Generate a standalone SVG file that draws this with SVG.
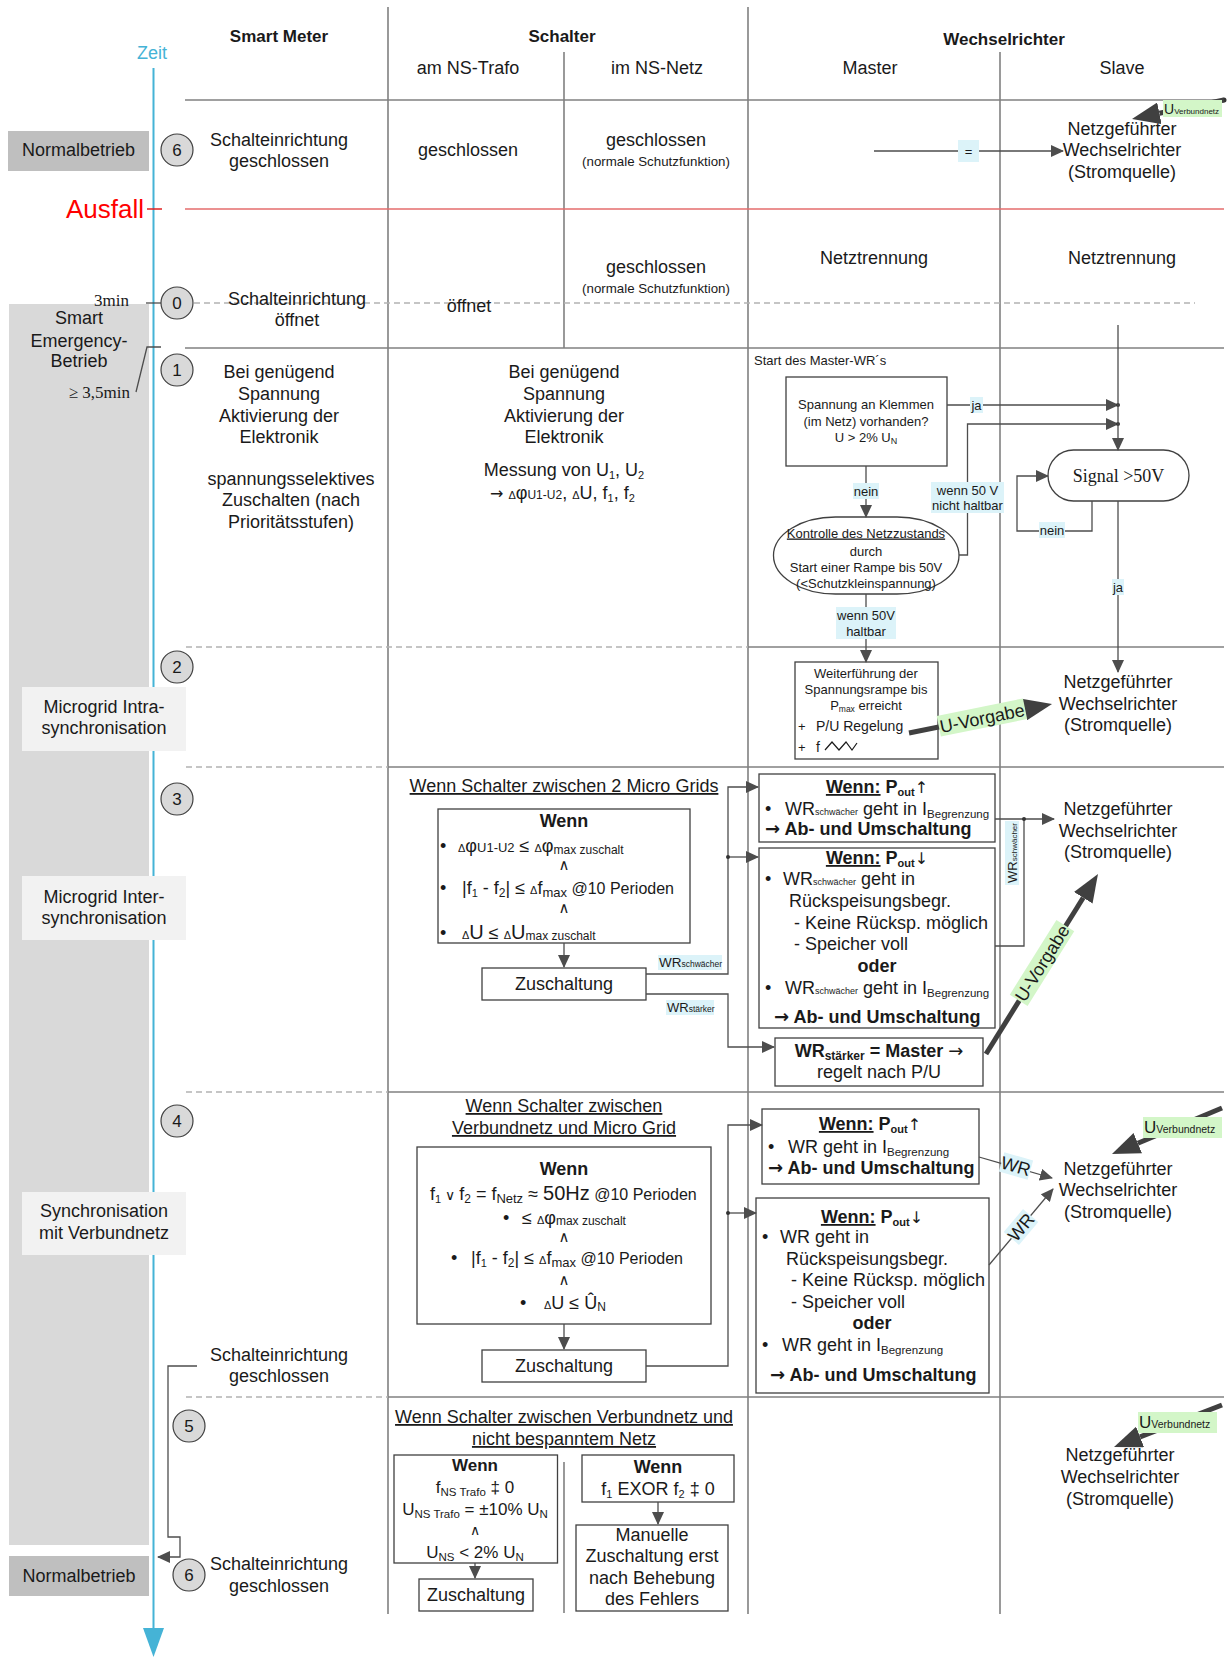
<svg xmlns="http://www.w3.org/2000/svg" width="1231" height="1657" viewBox="0 0 1231 1657">
<defs>
<style>
text{font-family:"Liberation Sans",Arial,"DejaVu Sans",sans-serif;fill:#1a1a1a;font-size:18px}
.c{text-anchor:middle}
.e{text-anchor:end}
.b{font-weight:bold}
.s{font-size:13px}
.serif{font-family:"Liberation Serif","Times New Roman",serif}
.u{text-decoration:underline}
.ar{font-family:"DejaVu Sans",sans-serif}
.grid{stroke:#808080;stroke-width:1.6;fill:none}
.dash{stroke:#b3b3b3;stroke-width:1.3;stroke-dasharray:6 4;fill:none}
.box{fill:#fff;stroke:#404040;stroke-width:1.3}
.con{fill:none;stroke:#4d4d4d;stroke-width:1.3}
.arr{marker-end:url(#ah)}
.thick{fill:none;stroke:#404040;stroke-width:5;marker-end:url(#ahb)}
.lc{fill:#dcf3f9}
.lg{fill:#d3f6c8}
.num{fill:#d9d9d9;stroke:#404040;stroke-width:1.2}
.dot{fill:#333}
</style>
<marker id="ah" markerUnits="userSpaceOnUse" markerWidth="13" markerHeight="12" refX="12" refY="6" orient="auto"><path d="M0,0 L13,6 L0,12 z" fill="#4d4d4d"/></marker>
<marker id="ahb" markerUnits="userSpaceOnUse" markerWidth="28" markerHeight="22" refX="0" refY="11" orient="auto"><path d="M0,0 L28,11 L0,22 z" fill="#404040"/></marker>
</defs>
<rect width="1231" height="1657" fill="#fff"/>

<!-- left phase band and time axis -->
<g id="phases">
<rect x="9" y="304" width="140" height="1241" fill="#d9d9d9"/>
<line x1="153.5" y1="68" x2="153.5" y2="1630" stroke="#45b3d6" stroke-width="2"/>
<polygon points="143,1628 164,1628 153.5,1657" fill="#45b3d6"/>
<text class="c" x="152" y="59" style="fill:#45b3d6">Zeit</text>
<g id="normal-top"><rect x="8" y="131" width="141" height="40" fill="#bfbfbf"/><text class="c" x="78.5" y="156">Normalbetrieb</text></g>
<g id="normal-bottom"><rect x="9" y="1556" width="140" height="40" fill="#bfbfbf"/><text class="c" x="79" y="1582">Normalbetrieb</text></g>
<g id="ausfall"><text class="e" x="144" y="218" style="fill:#ff0000;font-size:26px">Ausfall</text><line x1="147" y1="209" x2="162" y2="209" stroke="#e02020" stroke-width="1.5"/></g>
<g id="emergency"><text class="c" x="79" y="324">Smart</text><text class="c" x="79" y="347">Emergency-</text><text class="c" x="79" y="367">Betrieb</text></g>
<text class="serif e" x="129" y="306" style="font-size:17px">3min</text>
<line x1="146" y1="303" x2="161" y2="303" stroke="#404040" stroke-width="1.2"/>
<text class="serif e" x="130" y="398" style="font-size:17px">≥ 3,5min</text>
<polyline class="con" points="136,392 147,347 161,347"/>
<g id="intra"><rect x="22" y="687" width="164" height="64" fill="#f2f2f2"/><text class="c" x="104" y="713">Microgrid Intra-</text><text class="c" x="104" y="734">synchronisation</text></g>
<g id="inter"><rect x="22" y="876" width="164" height="64" fill="#f2f2f2"/><text class="c" x="104" y="903">Microgrid Inter-</text><text class="c" x="104" y="924">synchronisation</text></g>
<g id="sync"><rect x="22" y="1192" width="164" height="63" fill="#f2f2f2"/><text class="c" x="104" y="1217">Synchronisation</text><text class="c" x="104" y="1239">mit Verbundnetz</text></g>
</g>

<!-- table grid -->
<g id="grid">
<line class="grid" x1="388" y1="7" x2="388" y2="1614"/>
<line class="grid" x1="564" y1="52" x2="564" y2="348"/>
<line class="grid" x1="748" y1="7" x2="748" y2="1614"/>
<line class="grid" x1="1000" y1="52" x2="1000" y2="1614"/>
<line class="grid" x1="564" y1="1462" x2="564" y2="1613"/>
<line class="grid" x1="185" y1="100" x2="1224" y2="100"/>
<line x1="185" y1="209" x2="1224" y2="209" stroke="#e46c6c" stroke-width="1.5"/>
<line class="dash" x1="194" y1="303" x2="1195" y2="303"/>
<line class="grid" x1="185" y1="348" x2="1224" y2="348"/>
<line class="dash" x1="186" y1="647" x2="748" y2="647"/>
<line class="grid" x1="748" y1="647" x2="1224" y2="647"/>
<line class="dash" x1="186" y1="767" x2="388" y2="767"/>
<line class="grid" x1="388" y1="767" x2="1224" y2="767"/>
<line class="dash" x1="186" y1="1092" x2="388" y2="1092"/>
<line class="grid" x1="388" y1="1092" x2="1224" y2="1092"/>
<line class="dash" x1="186" y1="1397" x2="388" y2="1397"/>
<line class="grid" x1="388" y1="1397" x2="1224" y2="1397"/>
</g>

<!-- column headers -->
<g id="headers">
<text class="c b" x="279" y="42" style="font-size:17px">Smart Meter</text>
<text class="c b" x="562" y="42" style="font-size:17px">Schalter</text>
<text class="c b" x="1004" y="45" style="font-size:17px">Wechselrichter</text>
<text class="c" x="468" y="74">am NS-Trafo</text>
<text class="c" x="657" y="74">im NS-Netz</text>
<text class="c" x="870" y="74">Master</text>
<text class="c" x="1122" y="74">Slave</text>
</g>

<!-- step markers -->
<g id="steps">
<g id="step6a"><circle class="num" cx="177" cy="150" r="16"/><text class="c" x="177" y="156" style="font-size:17px">6</text></g>
<g id="step0"><circle class="num" cx="177" cy="303" r="16"/><text class="c" x="177" y="309" style="font-size:17px">0</text></g>
<g id="step1"><circle class="num" cx="177" cy="370" r="16"/><text class="c" x="177" y="376" style="font-size:17px">1</text></g>
<g id="step2"><circle class="num" cx="177" cy="667" r="16"/><text class="c" x="177" y="673" style="font-size:17px">2</text></g>
<g id="step3"><circle class="num" cx="177" cy="799" r="16"/><text class="c" x="177" y="805" style="font-size:17px">3</text></g>
<g id="step4"><circle class="num" cx="177" cy="1121" r="16"/><text class="c" x="177" y="1127" style="font-size:17px">4</text></g>
<g id="step5"><circle class="num" cx="189" cy="1426" r="16"/><text class="c" x="189" y="1432" style="font-size:17px">5</text></g>
<g id="step6b"><circle class="num" cx="189" cy="1575" r="16"/><text class="c" x="189" y="1581" style="font-size:17px">6</text></g>
</g>

<!-- row texts: normal operation, outage, start -->
<g id="row-texts">
<text class="c" x="279" y="146">Schalteinrichtung</text><text class="c" x="279" y="167">geschlossen</text>
<text class="c" x="468" y="156">geschlossen</text>
<text class="c" x="656" y="146">geschlossen</text><text class="c" x="656" y="166" style="font-size:13.3px">(normale Schutzfunktion)</text>
<text class="c" x="1122" y="135">Netzgeführter</text><text class="c" x="1122" y="156">Wechselrichter</text><text class="c" x="1122" y="178">(Stromquelle)</text>

<text class="c" x="656" y="273">geschlossen</text><text class="c" x="656" y="293" style="font-size:13.3px">(normale Schutzfunktion)</text>
<text class="c" x="874" y="264">Netztrennung</text>
<text class="c" x="1122" y="264">Netztrennung</text>
<text class="c" x="297" y="305">Schalteinrichtung</text><text class="c" x="297" y="326">öffnet</text>
<text class="c" x="469" y="312">öffnet</text>

<text class="c" x="279" y="378">Bei genügend</text><text class="c" x="279" y="400">Spannung</text><text class="c" x="279" y="422">Aktivierung der</text><text class="c" x="279" y="443">Elektronik</text>
<text class="c" x="291" y="485">spannungsselektives</text><text class="c" x="291" y="506">Zuschalten (nach</text><text class="c" x="291" y="528">Prioritätsstufen)</text>
<text class="c" x="564" y="378">Bei genügend</text><text class="c" x="564" y="400">Spannung</text><text class="c" x="564" y="422">Aktivierung der</text><text class="c" x="564" y="443">Elektronik</text>
<text class="c" x="564" y="476">Messung von U<tspan font-size="11" dy="3">1</tspan><tspan dy="-3">, U</tspan><tspan font-size="11" dy="3">2</tspan></text>
<text x="490" y="499"><tspan class="ar" font-size="16">→</tspan> <tspan font-size="11">Δ</tspan>φ<tspan font-size="12">U1-U2</tspan>, <tspan font-size="11">Δ</tspan>U, f<tspan font-size="11" dy="3">1</tspan><tspan dy="-3">, f</tspan><tspan font-size="11" dy="3">2</tspan></text>

<text x="754" y="365" class="s">Start des Master-WR´s</text>
<text class="c" x="1118" y="688">Netzgeführter</text><text class="c" x="1118" y="710">Wechselrichter</text><text class="c" x="1118" y="731">(Stromquelle)</text>

<text class="c" x="1118" y="815">Netzgeführter</text><text class="c" x="1118" y="837">Wechselrichter</text><text class="c" x="1118" y="858">(Stromquelle)</text>

<text class="c" x="1118" y="1175">Netzgeführter</text><text class="c" x="1118" y="1196">Wechselrichter</text><text class="c" x="1118" y="1218">(Stromquelle)</text>
<text class="c" x="279" y="1361">Schalteinrichtung</text><text class="c" x="279" y="1382">geschlossen</text>

<text class="c" x="1120" y="1461">Netzgeführter</text><text class="c" x="1120" y="1483">Wechselrichter</text><text class="c" x="1120" y="1505">(Stromquelle)</text>
<text class="c" x="279" y="1570">Schalteinrichtung</text><text class="c" x="279" y="1592">geschlossen</text>

<text class="c u" x="564" y="792">Wenn Schalter zwischen 2 Micro Grids</text>
<text class="c u" x="564" y="1112">Wenn Schalter zwischen</text><text class="c u" x="564" y="1134">Verbundnetz und Micro Grid</text>
<text class="c u" x="564" y="1423">Wenn Schalter zwischen Verbundnetz und</text><text class="c u" x="564" y="1445">nicht bespanntem Netz</text>
</g>

<!-- master start-up flow -->
<g id="n-klemmen"><rect class="box" x="786" y="377" width="161" height="89"/>
<text class="c s" x="866" y="408.5">Spannung an Klemmen</text><text class="c s" x="866" y="425.5">(im Netz) vorhanden?</text><text class="c s" x="866" y="441.5">U &gt; 2% U<tspan font-size="9" dy="2">N</tspan></text></g>
<g id="n-kontrolle"><rect class="box" x="773.5" y="517" width="185.5" height="77" rx="62" ry="38.5"/>
<text class="c s u" x="866" y="537.5">Kontrolle des Netzzustands</text><text class="c s" x="866" y="555.5">durch</text><text class="c s" x="866" y="571.5">Start einer Rampe bis 50V</text><text class="c s" x="866" y="587.5">(&lt;Schutzkleinspannung)</text></g>
<g id="n-signal"><rect class="box" x="1048" y="450" width="141" height="51" rx="25.5"/>
<text class="c serif" x="1118.5" y="482">Signal &gt;50V</text></g>
<g id="n-rampe"><rect class="box" x="795" y="662" width="143" height="97"/>
<text class="c s" x="866" y="677.5">Weiterführung der</text><text class="c s" x="866" y="693.5">Spannungsrampe bis</text>
<text class="c s" x="866" y="709.5">P<tspan font-size="8.5" dy="2">max</tspan><tspan dy="-2"> erreicht</tspan></text>
<text class="s" x="798" y="731">+</text><text x="816" y="731" style="font-size:14px">P/U Regelung</text>
<text class="s" x="798" y="752">+</text><text x="816" y="752" style="font-size:14px">f</text>
<polyline points="825,750 832,742 839,750 846,742 852,750 857,743" fill="none" stroke="#1a1a1a" stroke-width="1.2"/></g>

<!-- micro grid inter-synchronisation -->
<g id="n-wenn3"><rect class="box" x="438" y="809" width="252" height="134"/>
<text class="c b" x="564" y="827">Wenn</text>
<text x="440" y="852">•</text>
<text x="458" y="852"><tspan font-size="11">Δ</tspan>φ<tspan font-size="13">U1-U2</tspan> ≤ <tspan font-size="11">Δ</tspan>φ<tspan font-size="12" dy="2">max zuschalt</tspan></text>
<text class="c" x="564" y="870" style="font-size:15px">∧</text>
<text x="440" y="894">•</text>
<text x="462" y="894">|f<tspan font-size="11" dy="3">1</tspan><tspan dy="-3"> - f</tspan><tspan font-size="12" dy="3">2</tspan><tspan dy="-3">| ≤ </tspan><tspan font-size="11">Δ</tspan>f<tspan font-size="13" dy="3">max</tspan><tspan dy="-3" font-size="16">  @10 Perioden</tspan></text>
<text class="c" x="564" y="913" style="font-size:15px">∧</text>
<text x="440" y="939">•</text>
<text x="462" y="939"><tspan font-size="11">Δ</tspan><tspan font-size="20">U</tspan> ≤ <tspan font-size="11">Δ</tspan><tspan font-size="20">U</tspan><tspan font-size="12" dy="1">max zuschalt</tspan></text></g>
<g id="n-zu3"><rect class="box" x="482" y="968" width="164" height="32"/><text class="c" x="564" y="990">Zuschaltung</text></g>
<g id="n-pup3"><rect class="box" x="759" y="774" width="236" height="68"/>
<text class="c b" x="877" y="793"><tspan class="u">Wenn:</tspan> P<tspan font-size="11" dy="3">out</tspan><tspan dy="-3" class="ar" font-weight="normal" font-size="16">↑</tspan></text>
<text x="765" y="815">•</text>
<text x="785" y="815">WR<tspan font-size="9">schwächer</tspan> geht in I<tspan font-size="11.5" dy="3">Begrenzung</tspan></text>
<text class="b" x="765" y="835"><tspan class="ar">→</tspan> Ab- und Umschaltung</text></g>
<g id="n-pdown3"><rect class="box" x="759" y="848" width="236" height="180"/>
<text class="c b" x="877" y="864"><tspan class="u">Wenn:</tspan> P<tspan font-size="11" dy="3">out</tspan><tspan dy="-3" class="ar" font-weight="normal" font-size="16">↓</tspan></text>
<text x="765" y="885">•</text>
<text x="783" y="885">WR<tspan font-size="9">schwächer</tspan> geht in</text>
<text x="789" y="907">Rückspeisungsbegr.</text>
<text x="794" y="929">- Keine Rücksp. möglich</text>
<text x="794" y="950">- Speicher voll</text>
<text class="c b" x="877" y="972">oder</text>
<text x="765" y="994">•</text>
<text x="785" y="994">WR<tspan font-size="9">schwächer</tspan> geht in I<tspan font-size="11.5" dy="3">Begrenzung</tspan></text>
<text class="b" x="774" y="1023"><tspan class="ar">→</tspan> Ab- und Umschaltung</text></g>
<g id="n-master3"><rect class="box" x="775" y="1038" width="208" height="48"/>
<text class="c b" x="879" y="1057">WR<tspan font-size="12" dy="3">stärker</tspan><tspan dy="-3"> = Master </tspan><tspan class="ar" font-weight="normal">→</tspan></text>
<text class="c" x="879" y="1078">regelt nach P/U</text></g>

<!-- synchronisation with the public grid -->
<g id="n-wenn4"><rect class="box" x="417" y="1147" width="294" height="177"/>
<text class="c b" x="564" y="1175">Wenn</text>
<text x="430" y="1200">f<tspan font-size="11" dy="3">1</tspan><tspan dy="-3" font-size="14">  ∨  </tspan>f<tspan font-size="12" dy="3">2</tspan><tspan dy="-3"> = f</tspan><tspan font-size="13" dy="3">Netz</tspan><tspan dy="-3"> ≈ </tspan><tspan font-size="20">50Hz</tspan><tspan font-size="16"> @10 Perioden</tspan></text>
<text x="503" y="1224">•</text>
<text x="522" y="1224">≤ <tspan font-size="11">Δ</tspan>φ<tspan font-size="12" dy="1">max zuschalt</tspan></text>
<text class="c" x="564" y="1242" style="font-size:15px">∧</text>
<text x="451" y="1264">•</text>
<text x="471" y="1264">|f<tspan font-size="11" dy="3">1</tspan><tspan dy="-3"> - f</tspan><tspan font-size="12" dy="3">2</tspan><tspan dy="-3">| ≤ </tspan><tspan font-size="11">Δ</tspan>f<tspan font-size="13" dy="3">max</tspan><tspan dy="-3" font-size="16">  @10 Perioden</tspan></text>
<text class="c" x="564" y="1285" style="font-size:15px">∧</text>
<text x="520" y="1309">•</text>
<text x="544" y="1309"><tspan font-size="11">Δ</tspan>U ≤ Û<tspan font-size="12" dy="2">N</tspan></text></g>
<g id="n-zu4"><rect class="box" x="482" y="1350" width="164" height="32"/><text class="c" x="564" y="1372">Zuschaltung</text></g>
<g id="n-pup4"><rect class="box" x="762" y="1109" width="217" height="75"/>
<text class="c b" x="870" y="1130"><tspan class="u">Wenn:</tspan> P<tspan font-size="11" dy="3">out</tspan><tspan dy="-3" class="ar" font-weight="normal" font-size="16">↑</tspan></text>
<text x="768" y="1153">•</text>
<text x="788" y="1153">WR geht in I<tspan font-size="11.5" dy="3">Begrenzung</tspan></text>
<text class="b" x="768" y="1174"><tspan class="ar">→</tspan> Ab- und Umschaltung</text></g>
<g id="n-pdown4"><rect class="box" x="756" y="1198" width="233" height="195"/>
<text class="c b" x="872" y="1223"><tspan class="u">Wenn:</tspan> P<tspan font-size="11" dy="3">out</tspan><tspan dy="-3" class="ar" font-weight="normal" font-size="16">↓</tspan></text>
<text x="762" y="1243">•</text>
<text x="780" y="1243">WR geht in</text>
<text x="786" y="1265">Rückspeisungsbegr.</text>
<text x="791" y="1286">- Keine Rücksp. möglich</text>
<text x="791" y="1308">- Speicher voll</text>
<text class="c b" x="872" y="1329">oder</text>
<text x="762" y="1351">•</text>
<text x="782" y="1351">WR geht in I<tspan font-size="11.5" dy="3">Begrenzung</tspan></text>
<text class="b" x="770" y="1381"><tspan class="ar">→</tspan> Ab- und Umschaltung</text></g>

<!-- reconnection to an unenergised grid -->
<g id="n-wenn5a"><rect class="box" x="394" y="1455" width="163.5" height="108"/>
<text class="c b" x="475" y="1471" style="font-size:17px">Wenn</text>
<text class="c" x="475" y="1493" style="font-size:17px">f<tspan font-size="11.5" dy="3">NS Trafo</tspan><tspan dy="-3"> ‡ 0</tspan></text>
<text class="c" x="475" y="1515" style="font-size:17px">U<tspan font-size="11.5" dy="3">NS Trafo</tspan><tspan dy="-3"> = ±10% U</tspan><tspan font-size="11.5" dy="3">N</tspan></text>
<text class="c" x="475" y="1535" style="font-size:14px">∧</text>
<text class="c" x="475" y="1558" style="font-size:17px">U<tspan font-size="11.5" dy="3">NS</tspan><tspan dy="-3"> &lt; 2% U</tspan><tspan font-size="11.5" dy="3">N</tspan></text></g>
<g id="n-zu5"><rect class="box" x="419" y="1579" width="114" height="32"/><text class="c" x="476" y="1601">Zuschaltung</text></g>
<g id="n-wenn5b"><rect class="box" x="582" y="1455" width="152" height="47"/>
<text class="c b" x="658" y="1473">Wenn</text>
<text class="c" x="658" y="1495">f<tspan font-size="11" dy="3">1</tspan><tspan dy="-3"> EXOR  f</tspan><tspan font-size="11" dy="3">2</tspan><tspan dy="-3"> ‡ 0</tspan></text></g>
<g id="n-manuell"><rect class="box" x="576" y="1525" width="152" height="86"/>
<text class="c" x="652" y="1541">Manuelle</text><text class="c" x="652" y="1562">Zuschaltung erst</text><text class="c" x="652" y="1584">nach Behebung</text><text class="c" x="652" y="1605">des Fehlers</text></g>

<!-- connectors -->
<g id="connectors">
<line class="con arr" x1="874" y1="151" x2="1063" y2="151"/>
<rect class="lc" x="958" y="140" width="21" height="22"/><text class="c s" x="968.5" y="156">=</text>

<line class="con arr" x1="947" y1="405" x2="1118" y2="405"/>
<polyline class="con arr" points="959,555 967.5,555 967.5,424 1118,424"/>
<circle class="dot" cx="1118" cy="405" r="2"/><circle class="dot" cx="1118" cy="424" r="2"/>
<line class="con arr" x1="1118" y1="325" x2="1118" y2="450"/>
<polyline class="con arr" points="1092,501 1092,531 1017,531 1017,476 1048,476"/>
<line class="con arr" x1="1118" y1="501" x2="1118" y2="672"/>
<line class="con arr" x1="866" y1="466" x2="866" y2="517"/>
<line class="con arr" x1="866" y1="594" x2="866" y2="662"/>
<rect class="lc" x="970" y="397" width="13" height="16"/><text class="c s" x="976.5" y="410">ja</text>
<rect class="lc" x="931" y="482" width="73" height="31"/><text class="c s" x="967.5" y="494.5">wenn 50 V</text><text class="c s" x="967.5" y="509.5">nicht haltbar</text>
<rect class="lc" x="1039" y="522" width="26" height="16"/><text class="c s" x="1052" y="534.5">nein</text>
<rect class="lc" x="1112" y="579" width="12" height="16"/><text class="c s" x="1118" y="591.5">ja</text>
<rect class="lc" x="853" y="483" width="26" height="16"/><text class="c s" x="866" y="495.5">nein</text>
<rect class="lc" x="836" y="607" width="60" height="32"/><text class="c s" x="866" y="619.5">wenn 50V</text><text class="c s" x="866" y="635.5">haltbar</text>

<line class="thick" x1="909" y1="733" x2="1024.6" y2="709.6"/>
<g transform="translate(982,718) rotate(-11.5)"><rect class="lg" x="-44" y="-11" width="88" height="21"/><text class="c" x="0" y="6.5">U-Vorgabe</text></g>

<line class="con arr" x1="564" y1="943" x2="564" y2="967"/>
<polyline class="con arr" points="646,974 728,974 728,787 758,787"/>
<line class="con arr" x1="728" y1="857" x2="758" y2="857"/>
<circle class="dot" cx="728" cy="857" r="2"/>
<polyline class="con arr" points="646,994 728,994 728,1047 774,1047"/>
<rect class="lc" x="658" y="955" width="64" height="15"/><text x="659" y="967" style="font-size:13.5px">WR<tspan font-size="8.5">schwächer</tspan></text>
<rect class="lc" x="666" y="1000" width="48" height="15"/><text x="667" y="1012" style="font-size:13px">WR<tspan font-size="8.5">stärker</tspan></text>
<line class="con arr" x1="995" y1="819" x2="1054" y2="819"/>
<polyline class="con" points="995,946 1024,946 1024,819"/>
<circle class="dot" cx="1024" cy="819" r="2"/>
<g transform="translate(1012,853) rotate(-90)"><rect class="lc" x="-32" y="-7" width="64" height="14"/><text class="c" x="0" y="4.5" style="font-size:13px">WR<tspan font-size="8">schwächer</tspan></text></g>
<line class="thick" x1="986" y1="1054" x2="1083.2" y2="897.8"/>
<g transform="translate(1042,963) rotate(-58)"><rect class="lg" x="-44" y="-10.5" width="88" height="21"/><text class="c" x="0" y="6.5">U-Vorgabe</text></g>

<line class="con arr" x1="564" y1="1324" x2="564" y2="1349"/>
<polyline class="con arr" points="646,1366 728,1366 728,1125 762,1125"/>
<line class="con arr" x1="728" y1="1213" x2="756" y2="1213"/>
<circle class="dot" cx="728" cy="1213" r="2"/>
<line class="con arr" x1="979" y1="1157" x2="1052" y2="1178"/>
<line class="con arr" x1="989" y1="1265" x2="1053" y2="1189"/>
<g transform="translate(1016,1166) rotate(16)"><rect class="lc" x="-15" y="-10" width="30" height="20"/><text class="c" x="0" y="6.5">WR</text></g>
<g transform="translate(1021,1227) rotate(-50)"><rect class="lc" x="-15" y="-10" width="30" height="20"/><text class="c" x="0" y="6.5">WR</text></g>

<line class="con arr" x1="475" y1="1563" x2="475" y2="1578"/>
<line class="con arr" x1="658" y1="1502" x2="658" y2="1524"/>
<polyline class="con arr" points="197,1366 168,1366 168,1537 180,1537 180,1557 158,1557"/>

<circle class="dot" cx="1224" cy="100" r="2.5"/>
<line class="thick" x1="1224" y1="100" x2="1159.4" y2="113.3"/>
<rect class="lg" x="1163" y="100" width="59" height="17"/><text x="1164" y="114" style="font-size:14px">U<tspan font-size="8">Verbundnetz</tspan></text>
<line class="thick" x1="1222" y1="1108" x2="1137.8" y2="1143.2"/>
<rect class="lg" x="1143" y="1117" width="79" height="21"/><text x="1144" y="1133" style="font-size:17px">U<tspan font-size="10.5">Verbundnetz</tspan></text>
<line class="thick" x1="1222" y1="1405" x2="1140.1" y2="1436.9"/>
<rect class="lg" x="1138" y="1412" width="79" height="21"/><text x="1139" y="1428" style="font-size:17px">U<tspan font-size="10.5">Verbundnetz</tspan></text>
</g>
</svg>
